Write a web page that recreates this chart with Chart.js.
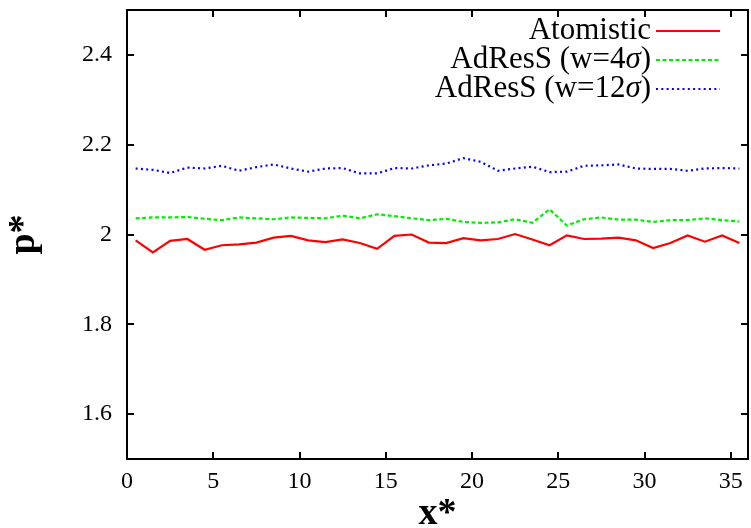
<!DOCTYPE html>
<html>
<head>
<meta charset="utf-8">
<script src="https://cdn.jsdelivr.net/npm/chart.js@4"></script>
<style>
  body { margin: 0; background: #fff; }
  #wrap { width: 751px; height: 528px; }
</style>
</head>
<body>
<div id="wrap"><canvas id="pressureChart" width="751" height="528"></canvas></div>
<script>
// positions along the box (x*)
const xPositions = [0.5, 1.5, 2.5, 3.5, 4.5, 5.5, 6.5, 7.5, 8.5, 9.5, 10.5, 11.5,
  12.5, 13.5, 14.5, 15.5, 16.5, 17.5, 18.5, 19.5, 20.5, 21.5, 22.5, 23.5,
  24.5, 25.5, 26.5, 27.5, 28.5, 29.5, 30.5, 31.5, 32.5, 33.5, 34.5, 35.5];

const atomistic = [1.987, 1.960, 1.986, 1.990, 1.966, 1.976, 1.978, 1.982, 1.993, 1.997, 1.987, 1.983,
  1.989, 1.981, 1.968, 1.997, 2.000, 1.982, 1.981, 1.992, 1.987, 1.990, 2.001, 1.989,
  1.976, 1.998, 1.990, 1.991, 1.993, 1.987, 1.970, 1.981, 1.998, 1.984, 1.998, 1.981];

const adress4 = [2.036, 2.038, 2.038, 2.039, 2.035, 2.032, 2.038, 2.036, 2.034, 2.038, 2.037, 2.036,
  2.042, 2.036, 2.045, 2.041, 2.036, 2.032, 2.035, 2.028, 2.026, 2.027, 2.034, 2.026,
  2.056, 2.020, 2.034, 2.038, 2.033, 2.033, 2.028, 2.032, 2.032, 2.036, 2.032, 2.029];

const adress12 = [2.147, 2.144, 2.137, 2.149, 2.147, 2.153, 2.142, 2.150, 2.156, 2.147, 2.140, 2.147,
  2.148, 2.136, 2.136, 2.148, 2.147, 2.154, 2.158, 2.170, 2.162, 2.142, 2.147, 2.151,
  2.139, 2.140, 2.153, 2.154, 2.156, 2.147, 2.146, 2.146, 2.142, 2.147, 2.148, 2.147];

const seriesLabels = ['Atomistic', 'AdResS (w=4σ)', 'AdResS (w=12σ)'];
const xTicks = [0, 5, 10, 15, 20, 25, 30, 35];
const yTicks = [1.6, 1.8, 2, 2.2, 2.4];

const serif = '"Liberation Serif", "DejaVu Serif", serif';

function toPoints(values) {
    return values.map((v, i) => ({ x: xPositions[i], y: v }));
}

// frame on all four sides with gnuplot-style inward ticks
const framePlugin = {
    id: 'frame',
    afterDatasetsDraw(chart) {
        const { ctx, chartArea: a, scales } = chart;
        const len = 7;
        ctx.save();
        ctx.strokeStyle = '#000';
        ctx.lineWidth = 2;
        ctx.strokeRect(a.left, a.top, a.right - a.left, a.bottom - a.top);
        ctx.beginPath();
        scales.x.ticks.forEach(t => {
            const px = Math.round(scales.x.getPixelForValue(t.value));
            ctx.moveTo(px, a.bottom); ctx.lineTo(px, a.bottom - len);
            ctx.moveTo(px, a.top); ctx.lineTo(px, a.top + len);
        });
        scales.y.ticks.forEach(t => {
            const py = Math.round(scales.y.getPixelForValue(t.value));
            ctx.moveTo(a.left, py); ctx.lineTo(a.left + len, py);
            ctx.moveTo(a.right, py); ctx.lineTo(a.right - len, py);
        });
        ctx.stroke();
        ctx.restore();
    }
};

// key: right-aligned text with the line sample after it
const keyPlugin = {
    id: 'key',
    afterDraw(chart) {
        const ctx = chart.ctx;
        const textRight = 651, lineStart = 656, lineEnd = 720;
        const rowY = [31, 60, 89];
        const size = 31;
        ctx.save();
        chart.data.datasets.forEach((ds, i) => {
            const y = rowY[i];
            // split label so sigma can be set in italic
            const pieces = [];
            ds.label.split('σ').forEach((p, k) => {
                if (k > 0) pieces.push({ t: 'σ', it: true });
                if (p) pieces.push({ t: p, it: false });
            });
            let total = 0;
            pieces.forEach(p => {
                ctx.font = (p.it ? 'italic ' : '') + size + 'px ' + serif;
                p.w = ctx.measureText(p.t).width;
                total += p.w;
            });
            let x = textRight - total;
            ctx.fillStyle = '#000';
            ctx.textBaseline = 'middle';
            ctx.textAlign = 'left';
            pieces.forEach(p => {
                ctx.font = (p.it ? 'italic ' : '') + size + 'px ' + serif;
                ctx.fillText(p.t, x, y);
                x += p.w;
            });
            ctx.strokeStyle = ds.borderColor;
            ctx.lineWidth = ds.borderWidth;
            ctx.setLineDash(ds.borderDash || []);
            ctx.beginPath();
            ctx.moveTo(lineStart, y);
            ctx.lineTo(lineEnd, y);
            ctx.stroke();
        });
        ctx.restore();
    }
};

const ctx = document.getElementById('pressureChart').getContext('2d');
const pressureChart = new Chart(ctx, {
    type: 'line',
    data: {
        datasets: [{
            label: seriesLabels[0],
            data: toPoints(atomistic),
            borderColor: '#ff0000',
            borderWidth: 2.2,
            pointRadius: 0,
            tension: 0
        }, {
            label: seriesLabels[1],
            data: toPoints(adress4),
            borderColor: '#00ee00',
            borderWidth: 2.2,
            borderDash: [4, 2.5],
            pointRadius: 0,
            tension: 0
        }, {
            label: seriesLabels[2],
            data: toPoints(adress12),
            borderColor: '#0000ff',
            borderWidth: 2.2,
            borderDash: [2, 3.3],
            pointRadius: 0,
            tension: 0
        }]
    },
    options: {
        responsive: false,
        animation: false,
        devicePixelRatio: 1,
        layout: { padding: { top: 10, right: 3, left: 0, bottom: 0 } },
        plugins: {
            legend: { display: false },
            tooltip: { enabled: false }
        },
        scales: {
            x: {
                type: 'linear',
                min: 0,
                max: 36,
                afterBuildTicks: s => { s.ticks = xTicks.map(v => ({ value: v })); },
                afterFit: s => { s.height = 69; s.paddingLeft = 0; s.paddingRight = 0; },
                grid: { display: false, drawTicks: false },
                border: { display: false },
                ticks: {
                    color: '#000',
                    padding: 8,
                    maxRotation: 0,
                    font: { family: serif, size: 24 },
                    callback: v => String(v)
                },
                title: {
                    display: true,
                    text: 'x*',
                    color: '#000',
                    font: { family: serif, size: 38, weight: 'bold', lineHeight: 1 },
                    padding: { top: 0, bottom: -5 }
                }
            },
            y: {
                type: 'linear',
                min: 1.5,
                max: 2.5,
                afterBuildTicks: s => { s.ticks = yTicks.map(v => ({ value: v })); },
                afterFit: s => { s.width = 127; s.paddingTop = 0; s.paddingBottom = 0; },
                grid: { display: false, drawTicks: false },
                border: { display: false },
                ticks: {
                    color: '#000',
                    padding: 15,
                    font: { family: serif, size: 24 },
                    callback: v => String(v)
                },
                title: {
                    display: true,
                    text: 'p*',
                    color: '#000',
                    font: { family: serif, size: 38, weight: 'bold', lineHeight: 1 },
                    padding: { top: 5, bottom: 0 }
                }
            }
        }
    },
    plugins: [framePlugin, keyPlugin]
});
</script>
</body>
</html>
